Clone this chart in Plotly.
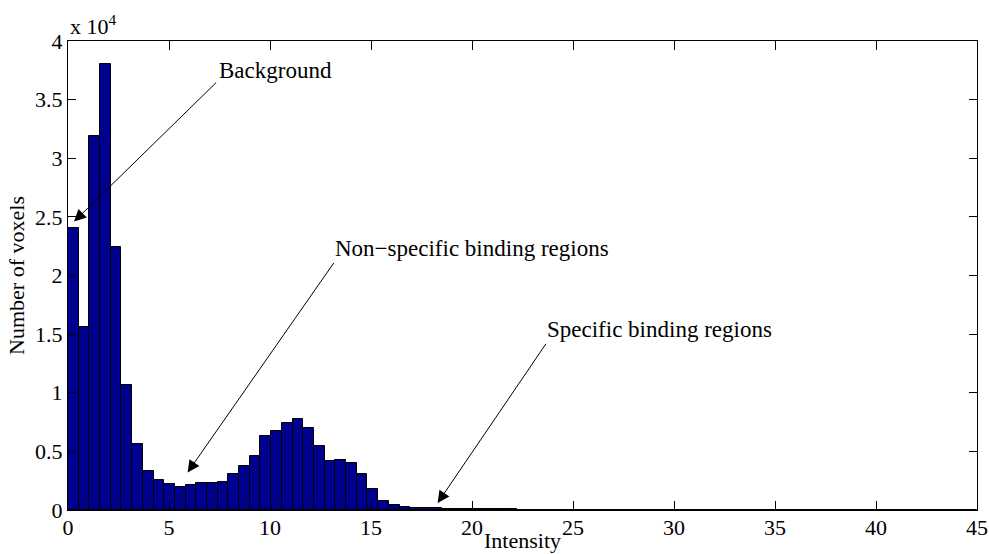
import numpy as np
import plotly.graph_objects as go

# Histogram of voxel intensities (85 equal bins between 0 and 45)
x_min, x_max, n_bins = 0.0, 45.0, 85
counts = [24050, 15640, 31900, 38070, 22440, 10700, 5650, 3330, 2600, 2260,
          1980, 2090, 2320, 2310, 2370, 3050, 3790, 4580, 6340, 6700,
          7400, 7770, 6980, 5450, 4180, 4260, 4040, 3110, 1780, 760,
          420, 260, 210, 170, 140, 120, 100, 85, 75, 65,
          55, 48, 42, 36, 32, 28, 25, 22, 20, 18,
          16, 14, 12, 11, 10, 9, 8, 7, 6, 6,
          5, 5, 4, 4, 3, 3, 3, 2, 2, 2,
          2, 1, 1, 1, 1, 1, 1, 1, 1, 0,
          1, 0, 0, 0, 1]

x_tick_vals = [0, 5, 10, 15, 20, 25, 30, 35, 40, 45]
y_tick_vals = [0, 5000, 10000, 15000, 20000, 25000, 30000, 35000, 40000]
y_tick_text = ["0", "0.5", "1", "1.5", "2", "2.5", "3", "3.5", "4"]

labels = ["Background", "Non\u2212specific binding regions", "Specific binding regions"]
arrow_heads = [(0.30, 24600), (5.92, 3200), (18.30, 600)]
arrow_tails = [(7.41, 36580), (13.21, 21200), (23.71, 14300)]
label_pos = [(7.36, 37520), (13.1, 22300), (23.6, 15400)]

bin_w = (x_max - x_min) / n_bins
centers = x_min + (np.arange(n_bins) + 0.5) * bin_w

FONT = "Liberation Serif, Times New Roman, serif"

fig = go.Figure()
fig.add_trace(go.Bar(
    x=centers, y=counts, width=bin_w,
    marker=dict(color="#00008F", line=dict(color="black", width=1)),
    hoverinfo="x+y", showlegend=False,
))

annotations = []
for (hx, hy), (tx, ty) in zip(arrow_heads, arrow_tails):
    annotations.append(dict(
        x=hx, y=hy, ax=tx, ay=ty, xref="x", yref="y", axref="x", ayref="y",
        text="", showarrow=True, arrowhead=2, arrowsize=2.4, arrowwidth=1,
        arrowcolor="black", standoff=0, startstandoff=0,
    ))
for lab, (lx, ly) in zip(labels, label_pos):
    annotations.append(dict(
        x=lx, y=ly, xref="x", yref="y", text=lab, showarrow=False,
        xanchor="left", yanchor="middle", font=dict(size=23, family=FONT, color="black"),
    ))
annotations.append(dict(
    x=0, y=1, xref="paper", yref="paper", text="x 10<sup>4</sup>", showarrow=False,
    xanchor="left", yanchor="bottom", font=dict(size=22, family=FONT, color="black"),
))
# x-axis title, placed just under the tick labels at the bottom edge
annotations.append(dict(
    x=0.5, y=0, xref="paper", yref="paper", text="Intensity", showarrow=False,
    xanchor="center", yanchor="bottom", yshift=-44, borderpad=0,
    font=dict(size=22, family=FONT, color="black"),
))

fig.update_layout(
    width=989, height=554,
    margin=dict(l=68, r=12, t=41, b=44, autoexpand=False),
    plot_bgcolor="white", paper_bgcolor="white",
    font=dict(family=FONT, size=22, color="black"),
    bargap=0,
    annotations=annotations,
    xaxis=dict(
        range=[x_min, x_max], tickvals=x_tick_vals, ticks="inside", ticklen=9,
        tickcolor="black", showline=True, linecolor="black", linewidth=1,
        mirror="ticks", showgrid=False, zeroline=False, automargin=False,
        ticklabelstandoff=-2,
        tickfont=dict(size=22),
    ),
    yaxis=dict(
        range=[0, 40000], tickvals=y_tick_vals, ticktext=y_tick_text,
        ticks="inside", ticklen=8, tickcolor="black", showline=True,
        linecolor="black", linewidth=1, mirror="ticks", showgrid=False,
        zeroline=False, automargin=False,
        title=dict(text="Number of voxels", standoff=4, font=dict(size=22)),
        tickfont=dict(size=22),
    ),
)

fig.write_html("out.html")
